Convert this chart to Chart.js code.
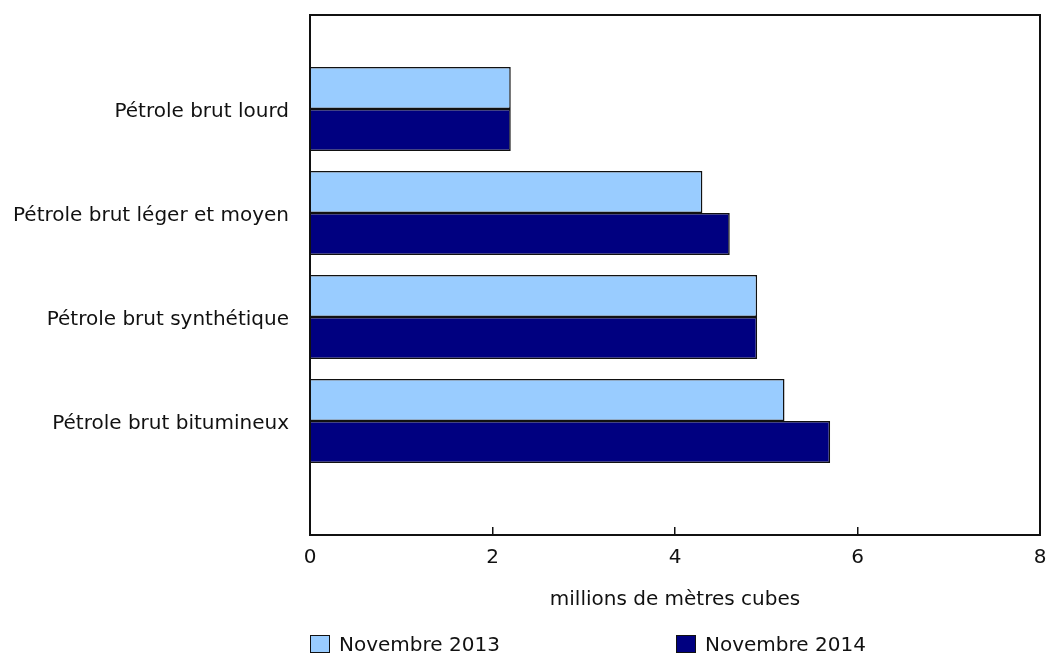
<!DOCTYPE html>
<html lang="fr">
<head>
<meta charset="utf-8">
<title>Pétrole brut</title>
<script src="https://cdn.jsdelivr.net/npm/chart.js@4.4.1/dist/chart.umd.min.js"></script>
<style>
  body { margin: 0; background: #fff; }
  #wrap { position: relative; width: 1048px; height: 654px; overflow: hidden; }
  .legend { position: absolute; top: 632px; font: 20px "DejaVu Sans", Verdana, sans-serif; color: #111; display: flex; align-items: center; }
  .legend .box { width: 20px; height: 18px; border: 1.5px solid #111; margin-right: 9px; box-sizing: border-box; }
</style>
</head>
<body>
<div id="wrap">
  <canvas id="chart" width="1048" height="654"></canvas>
  <div class="legend" id="leg0" style="left:310px"><span class="box"></span><span class="txt"></span></div>
  <div class="legend" id="leg1" style="left:676px"><span class="box"></span><span class="txt"></span></div>
</div>
<script>
const categories = [
  "Pétrole brut lourd",
  "Pétrole brut léger et moyen",
  "Pétrole brut synthétique",
  "Pétrole brut bitumineux",
];
const seriesNames = ["Novembre 2013", "Novembre 2014"];
const nov2013 = [2.2, 4.3, 4.9, 5.2];
const nov2014 = [2.2, 4.6, 4.9, 5.7];
const xTicks = [0, 2, 4, 6, 8];
const colors = ["#99ccff", "#000080"];

Chart.defaults.font.family = '"DejaVu Sans", Verdana, sans-serif';
Chart.defaults.font.size = 20;
Chart.defaults.color = "#111";

// legend (html)
seriesNames.forEach((name, i) => {
  const el = document.getElementById("leg" + i);
  el.querySelector(".box").style.background = colors[i];
  el.querySelector(".txt").textContent = name;
});

const toPoints = (values) => values.map((v, i) => ({ x: v, y: i }));

// no extra padding from tick labels, the area is fixed
const noPadding = (scale) => {
  scale.paddingTop = 0;
  scale.paddingBottom = 0;
  scale.paddingLeft = 0;
  scale.paddingRight = 0;
};

// cadre autour de la zone du graphique
const framePlugin = {
  id: "frame",
  afterDraw(chart) {
    const { ctx, chartArea: a } = chart;
    ctx.save();
    ctx.strokeStyle = "#111";
    ctx.lineWidth = 2;
    ctx.strokeRect(a.left, a.top, a.right - a.left, a.bottom - a.top);
    ctx.restore();
  },
};

const ctx = document.getElementById("chart").getContext("2d");
new Chart(ctx, {
  type: "bar",
  data: {
    datasets: [
      {
        label: seriesNames[0],
        data: toPoints(nov2013),
        backgroundColor: colors[0],
        borderColor: "#111",
        borderWidth: 1.5,
      },
      {
        label: seriesNames[1],
        data: toPoints(nov2014),
        backgroundColor: colors[1],
        borderColor: "#111",
        borderWidth: 1.5,
      },
    ],
  },
  options: {
    indexAxis: "y",
    responsive: false,
    animation: false,
    layout: { padding: { top: 15, right: 8, bottom: 42, left: 0 } },
    categoryPercentage: 84 / 104,
    barPercentage: 1,
    plugins: {
      legend: { display: false },
      tooltip: { enabled: false },
    },
    scales: {
      x: {
        type: "linear",
        min: 0,
        max: 8,
        bounds: "data",
        afterBuildTicks: (scale) => {
          scale.ticks = xTicks.map((v) => ({ value: v }));
        },
        afterFit: (scale) => {
          scale.height = 77;
          noPadding(scale);
        },
        grid: {
          drawOnChartArea: false,
          drawTicks: true,
          tickLength: -8,
          color: "#111",
          lineWidth: 1.5,
        },
        border: { display: false },
        ticks: { padding: 19 },
        title: {
          display: true,
          text: "millions de mètres cubes",
          padding: { top: 0, bottom: 0 },
        },
      },
      y: {
        type: "linear",
        offset: false,
        bounds: "data",
        grace: 0,
        reverse: true,
        min: -0.904,
        max: 4.096,
        afterBuildTicks: (scale) => {
          scale.ticks = categories.map((c, i) => ({ value: i }));
        },
        afterFit: (scale) => {
          scale.width = 310;
          noPadding(scale);
        },
        grid: { display: false, offset: false },
        border: { display: false },
        ticks: {
          padding: 13,
          labelOffset: 3,
          callback: (value) => categories[value] ?? "",
        },
      },
    },
  },
  plugins: [framePlugin],
});
</script>
</body>
</html>
